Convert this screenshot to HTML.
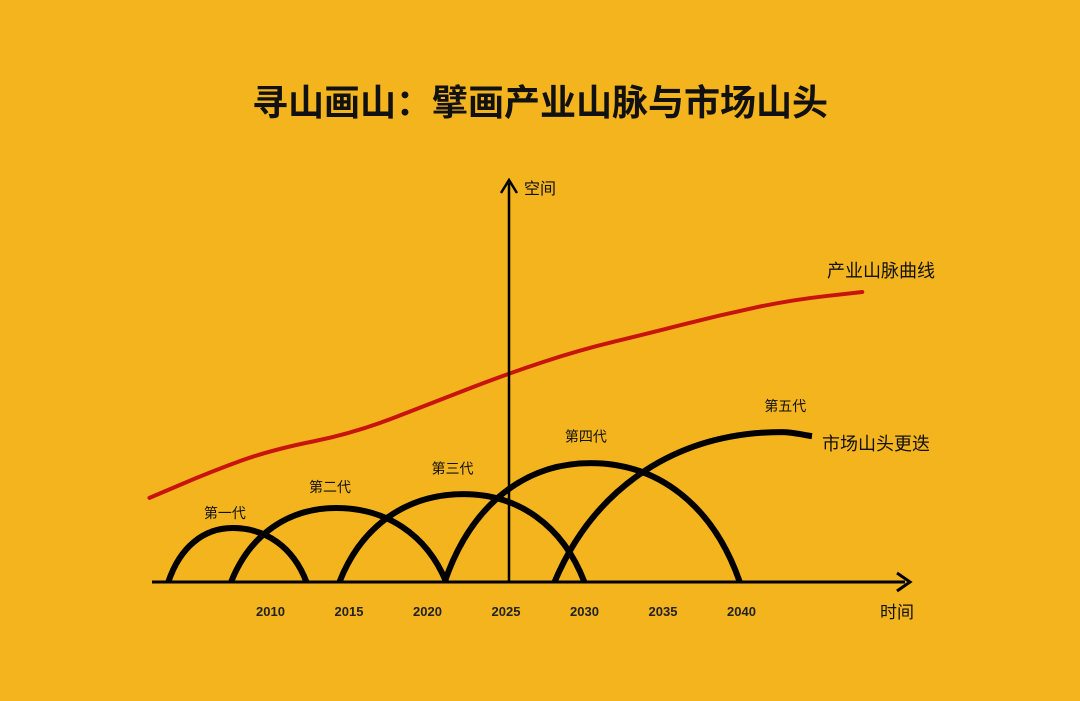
<!DOCTYPE html>
<html><head><meta charset="utf-8">
<style>
html,body{margin:0;padding:0;background:#F4B41E;}
svg{display:block;font-family:"Liberation Sans","Noto Sans CJK SC",sans-serif;}
</style></head>
<body>
<svg width="1080" height="701" viewBox="0 0 1080 701">
<rect width="1080" height="701" fill="#F4B41E"/>
<text x="540" y="115" text-anchor="middle" font-size="36" font-weight="bold" fill="#111">寻山画山：擘画产业山脉与市场山头</text>
<g id="plot"></g>
</svg>
<script>
const tickYears=[2010,2015,2020,2025,2030,2035,2040];
const redYears=[2002.1,2006.0,2009.8,2015.2,2020.6,2025,2029.5,2034,2038.4,2042.9,2047.5];
const redValues=[29,38,45.5,51.4,62.8,72,80,85.9,92,97.2,100];
const archNames=["第一代","第二代","第三代","第四代","第五代"];
const archStart=[2003.3,2007.3,2014.2,2020.9,2027.9];
const archPeak=[2007.4,2014.0,2022.1,2030.2,2042.4];
const archEnd=[2012.1,2021.0,2029.8,2039.7,2044.3];
const archHeight=[18.6,25.5,30.3,41,51.7];
const archEndHeight=[0,0,0,0,50.3];
const labelYears=[2006.9,2013.6,2021.4,2029.9,2042.6];
const labelHeights=[22,31,37.5,48.5,59];

const base=582, x0=509;
const xS=y=>x0+(y-2025)*15.7;
const yS=v=>base-v*2.9;
const NS="http://www.w3.org/2000/svg";
const g=document.getElementById('plot');
function mk(t,a){const e=document.createElementNS(NS,t);for(const k in a)e.setAttribute(k,a[k]);g.appendChild(e);return e;}

let d="M"+xS(redYears[0])+","+yS(redValues[0]);
for(let i=1;i<redYears.length;i++){
  const px=xS(redYears[i-1]),py=yS(redValues[i-1]),cx=xS(redYears[i]),cy=yS(redValues[i]);
  d+=" Q"+px+","+py+" "+(px+cx)/2+","+(py+cy)/2;
}
d+=" L"+xS(redYears[redYears.length-1])+","+yS(redValues[redValues.length-1]);
const red=mk('path',{d:d,fill:"none",stroke:"#C8140F","stroke-width":4,"stroke-linecap":"round","stroke-linejoin":"round"});



for(let i=0;i<archStart.length;i++){
  const sx=xS(archStart[i]),px=xS(archPeak[i]),ex=xS(archEnd[i]);
  const py=yS(archHeight[i]),ey=yS(archEndHeight[i]);
  const h=base-py,dx=px-sx,dx2=ex-px;
  let p="M"+sx+","+base+" C"+(sx+0.18*dx)+","+(base-0.65*h)+" "+(px-0.45*dx)+","+py+" "+px+","+py;
  if(archEndHeight[i]===0) p+=" C"+(px+0.45*dx2)+","+py+" "+(ex-0.18*dx2)+","+(base-0.65*h)+" "+ex+","+base;
  else p+=" C"+(px+0.4*dx2)+","+py+" "+(ex-0.3*dx2)+","+(ey-1)+" "+ex+","+ey;
  const a=mk('path',{d:p,fill:"none",stroke:"#000","stroke-width":6,"stroke-linecap":"butt"});
  
  
  const t=mk('text',{x:xS(labelYears[i]),y:yS(labelHeights[i]),"text-anchor":"middle","font-size":14,fill:"#111"});
  t.textContent=archNames[i];
  
  
}

const xa=mk('path',{d:"M152,582 L905,582",stroke:"#000","stroke-width":3,fill:"none"});


const xh=mk('path',{d:"M897,573 L910,582 L897,591",stroke:"#000","stroke-width":3,fill:"none"});


const ya=mk('path',{d:"M509,582 L509,183",stroke:"#000","stroke-width":2.5,fill:"none"});


const yh=mk('path',{d:"M501,193 L509,180 L517,193",stroke:"#000","stroke-width":2.5,fill:"none"});



for(const y of tickYears){
  const t=mk('text',{x:xS(y)-3,y:616,"text-anchor":"middle","font-size":13,"font-weight":"bold",fill:"#222"});
  t.textContent=y;
  
  
}
function lab(x,y,s,txt,name){const t=mk('text',{x:x,y:y,"font-size":s,fill:"#111"});t.textContent=txt;
  return t;}
lab(524,194,16,"空间","y-axis-title");
lab(880,618,17,"时间","x-axis-title");
lab(827,277,18,"产业山脉曲线","industry-curve-label");
lab(822,450,18,"市场山头更迭","market-arches-label");
</script>
</body></html>
